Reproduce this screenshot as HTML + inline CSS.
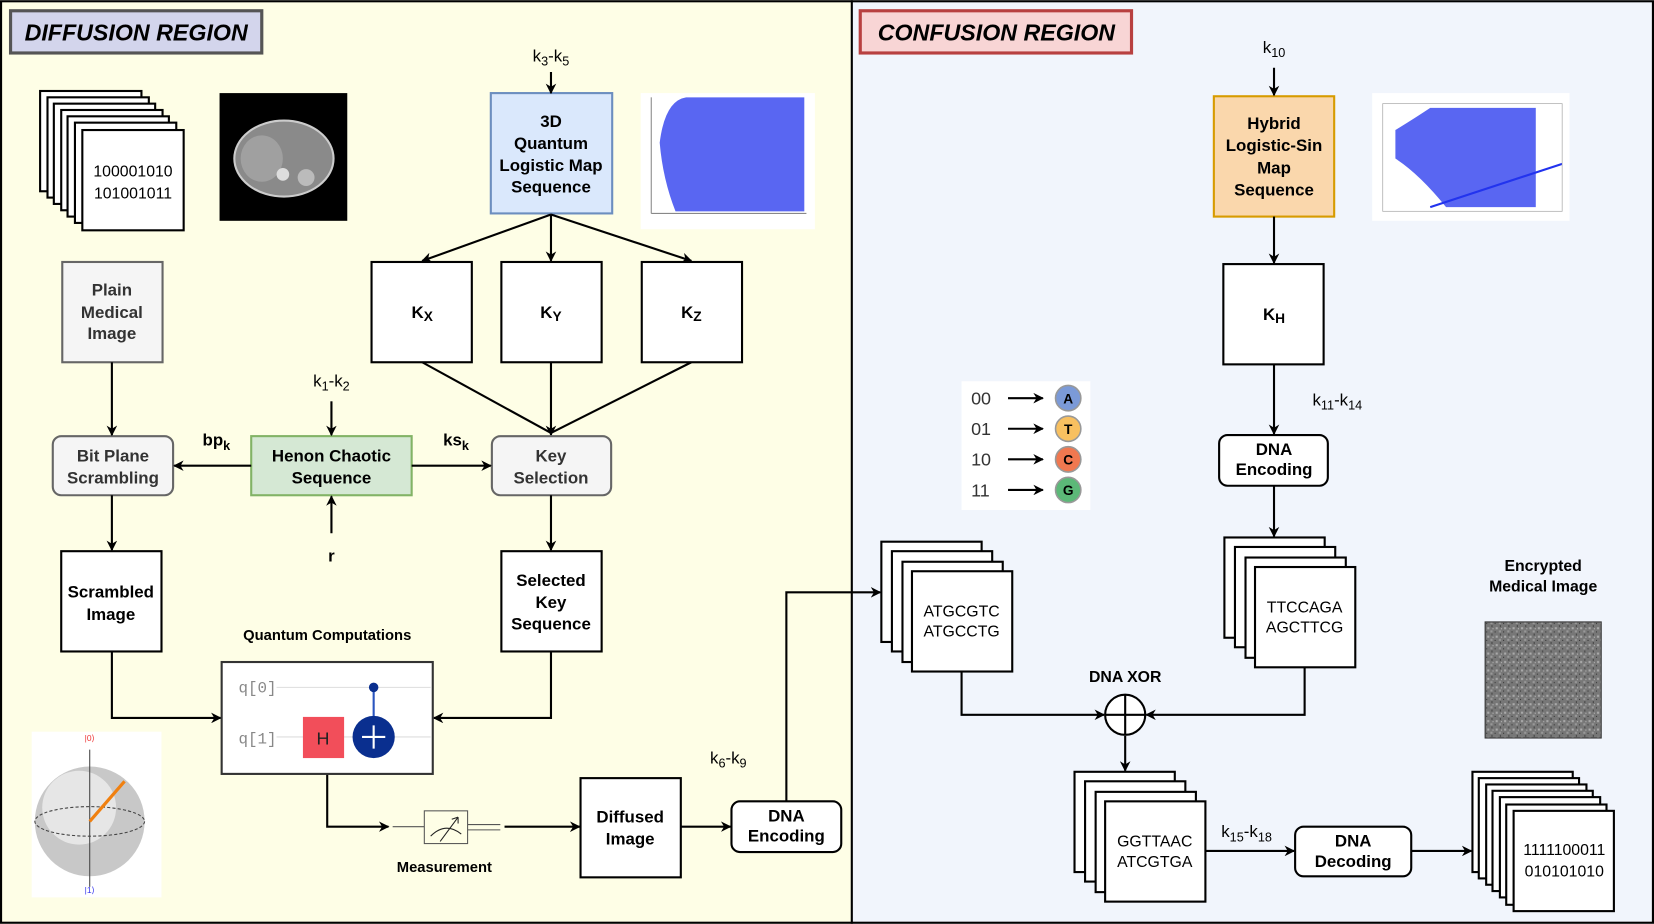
<!DOCTYPE html>
<html><head><meta charset="utf-8"><style>
html,body{margin:0;padding:0;background:#fff}
svg{display:block}
text{font-family:"Liberation Sans",Arial,sans-serif}
.b{font-weight:bold;font-size:16px}
.n{font-size:15px}
</style></head><body>
<svg width="1654" height="924" viewBox="0 0 1567 875" xmlns="http://www.w3.org/2000/svg">
<defs>
<marker id="a" markerWidth="10" markerHeight="10" refX="9" refY="5" orient="auto" markerUnits="userSpaceOnUse"><path d="M0,0 L10,5 L0,10 L3,5 z" fill="#000"/></marker>
<pattern id="noise" width="8" height="8" patternUnits="userSpaceOnUse"><rect width="8" height="8" fill="#777"/><rect x="1" y="2" width="2" height="2" fill="#aaa"/><rect x="5" y="0" width="1" height="2" fill="#444"/><rect x="4" y="5" width="2" height="2" fill="#999"/><rect x="0" y="6" width="1" height="1" fill="#333"/><rect x="6" y="3" width="1" height="1" fill="#bbb"/></pattern>
</defs>
<rect x="0" y="0" width="807" height="875" fill="#fefee6"/>
<rect x="807" y="0" width="760" height="875" fill="#f1f5fc"/>
<rect x="1" y="1" width="1565" height="873" fill="none" stroke="#000" stroke-width="2"/>
<line x1="807" y1="0" x2="807" y2="875" stroke="#000" stroke-width="2"/>

<rect x="10" y="10" width="238" height="40" fill="#d3d5ec" stroke="#555" stroke-width="3"/>
<text x="129" y="38" text-anchor="middle" font-weight="bold" font-style="italic" font-size="22">DIFFUSION REGION</text>
<rect x="815" y="10" width="257" height="40" fill="#f8d5d5" stroke="#b84040" stroke-width="3"/>
<text x="944" y="38" text-anchor="middle" font-weight="bold" font-style="italic" font-size="22">CONFUSION REGION</text>

<g fill="#fff" stroke="#000" stroke-width="2">
<rect x="38" y="86" width="96" height="95"/><rect x="45" y="92" width="96" height="95"/><rect x="51" y="98" width="96" height="95"/><rect x="58" y="104" width="96" height="95"/><rect x="64" y="110" width="96" height="95"/><rect x="71" y="116" width="96" height="95"/><rect x="78" y="123" width="96" height="95"/>
</g>
<text x="126" y="167" text-anchor="middle" class="n" font-size="16">100001010</text>
<text x="126" y="188" text-anchor="middle" class="n" font-size="16">101001011</text>

<rect x="208" y="88" width="121" height="121" fill="#000"/>
<ellipse cx="269" cy="150" rx="47" ry="36" fill="#8a8a8a" stroke="#ccc" stroke-width="2"/>
<ellipse cx="248" cy="150" rx="20" ry="22" fill="#a0a0a0"/>
<circle cx="290" cy="168" r="8" fill="#bbb"/><circle cx="268" cy="165" r="6" fill="#ddd"/>

<rect x="465" y="88" width="115" height="114" fill="#dae8fc" stroke="#6c8ebf" stroke-width="2"/>
<text x="522" y="120" text-anchor="middle" class="b">3D</text>
<text x="522" y="141" text-anchor="middle" class="b">Quantum</text>
<text x="522" y="162" text-anchor="middle" class="b">Logistic Map</text>
<text x="522" y="182" text-anchor="middle" class="b">Sequence</text>
<text x="522" y="58" text-anchor="middle" font-size="16">k<tspan font-size="12" dy="4">3</tspan><tspan dy="-4">-k</tspan><tspan font-size="12" dy="4">5</tspan></text>
<line x1="522" y1="68" x2="522" y2="88" stroke="#000" stroke-width="2" marker-end="url(#a)"/>

<rect x="607" y="88" width="165" height="129" fill="#fff"/>
<path d="M625,135 Q630,95 650,92 L762,92 L762,200 L640,200 Q628,170 625,135z" fill="#2233ee" opacity="0.75"/>
<line x1="617" y1="92" x2="617" y2="202" stroke="#888"/><line x1="617" y1="202" x2="764" y2="202" stroke="#888"/>

<g fill="#fff" stroke="#000" stroke-width="2">
<rect x="352" y="248" width="95" height="95"/><rect x="475" y="248" width="95" height="95"/><rect x="608" y="248" width="95" height="95"/>
</g>
<text x="400" y="301" text-anchor="middle" class="b" font-size="17">K<tspan font-size="13" dy="3">X</tspan></text>
<text x="522" y="301" text-anchor="middle" class="b" font-size="17">K<tspan font-size="13" dy="3">Y</tspan></text>
<text x="655" y="301" text-anchor="middle" class="b" font-size="17">K<tspan font-size="13" dy="3">Z</tspan></text>
<g stroke="#000" stroke-width="2" fill="none">
<line x1="522" y1="203" x2="400" y2="247" marker-end="url(#a)"/>
<line x1="522" y1="203" x2="522" y2="247" marker-end="url(#a)"/>
<line x1="522" y1="203" x2="655" y2="247" marker-end="url(#a)"/>
<line x1="400" y1="343" x2="522" y2="410"/>
<line x1="655" y1="343" x2="522" y2="410"/>
<line x1="522" y1="343" x2="522" y2="412" marker-end="url(#a)"/>
</g>

<rect x="59" y="248" width="95" height="95" fill="#f5f5f5" stroke="#666" stroke-width="2"/>
<text x="106" y="280" text-anchor="middle" class="b" fill="#333">Plain</text>
<text x="106" y="301" text-anchor="middle" class="b" fill="#333">Medical</text>
<text x="106" y="321" text-anchor="middle" class="b" fill="#333">Image</text>

<rect x="50" y="413" width="114" height="56" rx="8" fill="#f5f5f5" stroke="#666" stroke-width="2"/>
<text x="107" y="437" text-anchor="middle" class="b" fill="#333">Bit Plane</text>
<text x="107" y="458" text-anchor="middle" class="b" fill="#333">Scrambling</text>
<rect x="238" y="413" width="152" height="56" fill="#d5e8d4" stroke="#82b366" stroke-width="2"/>
<text x="314" y="437" text-anchor="middle" class="b">Henon Chaotic</text>
<text x="314" y="458" text-anchor="middle" class="b">Sequence</text>
<rect x="466" y="413" width="113" height="56" rx="8" fill="#f5f5f5" stroke="#666" stroke-width="2"/>
<text x="522" y="437" text-anchor="middle" class="b" fill="#333">Key</text>
<text x="522" y="458" text-anchor="middle" class="b" fill="#333">Selection</text>

<text x="314" y="366" text-anchor="middle" font-size="16">k<tspan font-size="12" dy="4">1</tspan><tspan dy="-4">-k</tspan><tspan font-size="12" dy="4">2</tspan></text>
<text x="314" y="532" text-anchor="middle" class="b">r</text>
<text x="205" y="422" text-anchor="middle" class="b">bp<tspan font-size="12" dy="4">k</tspan></text>
<text x="432" y="422" text-anchor="middle" class="b">ks<tspan font-size="12" dy="4">k</tspan></text>
<g stroke="#000" stroke-width="2" fill="none">
<line x1="314" y1="380" x2="314" y2="412" marker-end="url(#a)"/>
<line x1="314" y1="505" x2="314" y2="470" marker-end="url(#a)"/>
<line x1="238" y1="441" x2="165" y2="441" marker-end="url(#a)"/>
<line x1="390" y1="441" x2="465" y2="441" marker-end="url(#a)"/>
<line x1="106" y1="343" x2="106" y2="412" marker-end="url(#a)"/>
<line x1="106" y1="469" x2="106" y2="521" marker-end="url(#a)"/>
<line x1="522" y1="469" x2="522" y2="521" marker-end="url(#a)"/>
<polyline points="106,617 106,680 209,680" marker-end="url(#a)"/>
<polyline points="522,617 522,680 411,680" marker-end="url(#a)"/>
<polyline points="310,733 310,783 368,783" marker-end="url(#a)"/>
<line x1="478" y1="783" x2="549" y2="783" marker-end="url(#a)"/>
<line x1="645" y1="783" x2="692" y2="783" marker-end="url(#a)"/>
<polyline points="745,759 745,561 834,561" marker-end="url(#a)"/>
</g>

<rect x="58" y="522" width="95" height="95" fill="#fff" stroke="#000" stroke-width="2"/>
<text x="105" y="566" text-anchor="middle" class="b">Scrambled</text>
<text x="105" y="587" text-anchor="middle" class="b">Image</text>
<rect x="475" y="522" width="95" height="95" fill="#fff" stroke="#000" stroke-width="2"/>
<text x="522" y="555" text-anchor="middle" class="b">Selected</text>
<text x="522" y="576" text-anchor="middle" class="b">Key</text>
<text x="522" y="596" text-anchor="middle" class="b">Sequence</text>

<text x="310" y="606" text-anchor="middle" font-weight="bold" font-size="14">Quantum Computations</text>
<rect x="210" y="627" width="200" height="106" fill="#fff" stroke="#333" stroke-width="2"/>
<line x1="262" y1="651" x2="408" y2="651" stroke="#ddd"/><line x1="262" y1="698" x2="408" y2="698" stroke="#ddd"/>
<text x="244" y="656" text-anchor="middle" font-family="Liberation Mono" font-size="15" fill="#888" style="font-family:'Liberation Mono',monospace">q[0]</text>
<text x="244" y="704" text-anchor="middle" font-size="15" fill="#888" style="font-family:'Liberation Mono',monospace">q[1]</text>
<rect x="287" y="679" width="39" height="39" fill="#f24e5a"/>
<text x="306" y="705" text-anchor="middle" font-size="17" fill="#222">H</text>
<line x1="354" y1="651" x2="354" y2="690" stroke="#2a55c0" stroke-width="2"/>
<circle cx="354" cy="651" r="4.5" fill="#0a2f8f"/>
<circle cx="354" cy="698" r="20" fill="#0a2f8f"/>
<path d="M354,687v22M343,698h22" stroke="#fff" stroke-width="2"/>

<line x1="372" y1="783" x2="402" y2="783" stroke="#555"/>
<rect x="402" y="768" width="41" height="31" fill="#fefee6" stroke="#555"/>
<path d="M408,792 Q422,778 437,790 M417,797 L434,774 M434,774 l-6,2 M434,774 l0,6" stroke="#222" fill="none"/>
<line x1="443" y1="781" x2="474" y2="781" stroke="#555"/><line x1="443" y1="786" x2="474" y2="786" stroke="#555"/>
<text x="421" y="826" text-anchor="middle" font-weight="bold" font-size="14">Measurement</text>

<rect x="30" y="693" width="123" height="157" fill="#fff"/>
<circle cx="85" cy="778" r="52" fill="#c8c8c8"/>
<circle cx="75" cy="765" r="35" fill="#e6e6e6"/>
<ellipse cx="85" cy="778" rx="52" ry="14" fill="none" stroke="#444" stroke-dasharray="3,2"/>
<line x1="85" y1="710" x2="85" y2="840" stroke="#444"/>
<line x1="85" y1="778" x2="118" y2="740" stroke="#f08010" stroke-width="3"/>
<text x="85" y="702" text-anchor="middle" font-size="8" fill="#e33">|0⟩</text>
<text x="85" y="846" text-anchor="middle" font-size="8" fill="#33e">|1⟩</text>

<rect x="550" y="737" width="95" height="94" fill="#fff" stroke="#000" stroke-width="2"/>
<text x="597" y="779" text-anchor="middle" class="b">Diffused</text>
<text x="597" y="800" text-anchor="middle" class="b">Image</text>
<rect x="693" y="759" width="104" height="48" rx="8" fill="#fff" stroke="#000" stroke-width="2"/>
<text x="745" y="778" text-anchor="middle" class="b" font-size="15">DNA</text>
<text x="745" y="797" text-anchor="middle" class="b" font-size="15">Encoding</text>
<text x="690" y="723" text-anchor="middle" font-size="16">k<tspan font-size="12" dy="4">6</tspan><tspan dy="-4">-k</tspan><tspan font-size="12" dy="4">9</tspan></text>

<!-- right -->
<text x="1207" y="50" text-anchor="middle" font-size="16">k<tspan font-size="12" dy="4">10</tspan></text>
<rect x="1150" y="91" width="114" height="114" fill="#fad7ac" stroke="#d79b00" stroke-width="2"/>
<text x="1207" y="122" text-anchor="middle" class="b">Hybrid</text>
<text x="1207" y="143" text-anchor="middle" class="b">Logistic-Sin</text>
<text x="1207" y="164" text-anchor="middle" class="b">Map</text>
<text x="1207" y="185" text-anchor="middle" class="b">Sequence</text>
<rect x="1300" y="88" width="187" height="121" fill="#fff"/>
<path d="M1322,123 Q1340,112 1355,102 L1455,102 L1455,196 L1370,196 Q1345,165 1322,150 z" fill="#2233ee" opacity="0.75"/>
<line x1="1355" y1="196" x2="1480" y2="155" stroke="#2233ee" stroke-width="2"/>
<rect x="1310" y="98" width="170" height="102" fill="none" stroke="#aaa" stroke-width="0.7"/>

<rect x="1159" y="250" width="95" height="95" fill="#fff" stroke="#000" stroke-width="2"/>
<text x="1207" y="303" text-anchor="middle" class="b" font-size="17">K<tspan font-size="13" dy="3">H</tspan></text>
<text x="1267" y="384" text-anchor="middle" font-size="16">k<tspan font-size="12" dy="4">11</tspan><tspan dy="-4">-k</tspan><tspan font-size="12" dy="4">14</tspan></text>
<rect x="1155" y="412" width="103" height="48" rx="8" fill="#fff" stroke="#000" stroke-width="2"/>
<text x="1207" y="431" text-anchor="middle" class="b" font-size="15">DNA</text>
<text x="1207" y="450" text-anchor="middle" class="b" font-size="15">Encoding</text>
<g stroke="#000" stroke-width="2" fill="none">
<line x1="1207" y1="64" x2="1207" y2="90" marker-end="url(#a)"/>
<line x1="1207" y1="205" x2="1207" y2="249" marker-end="url(#a)"/>
<line x1="1207" y1="345" x2="1207" y2="411" marker-end="url(#a)"/>
<line x1="1207" y1="460" x2="1207" y2="508" marker-end="url(#a)"/>
<polyline points="911,636 911,677 1046,677" marker-end="url(#a)"/>
<polyline points="1236,632 1236,677 1086,677" marker-end="url(#a)"/>
<line x1="1066" y1="697" x2="1066" y2="730" marker-end="url(#a)"/>
<line x1="1141" y1="806" x2="1226" y2="806" marker-end="url(#a)"/>
<line x1="1337" y1="806" x2="1394" y2="806" marker-end="url(#a)"/>
</g>

<rect x="911" y="361" width="122" height="122" fill="#fff"/>
<g font-size="17" fill="#333">
<text x="920" y="383">00</text><text x="920" y="412">01</text><text x="920" y="441">10</text><text x="920" y="470">11</text>
</g>
<g stroke="#000" stroke-width="2" fill="none">
<line x1="955" y1="377" x2="988" y2="377" marker-end="url(#a)"/><line x1="955" y1="406" x2="988" y2="406" marker-end="url(#a)"/><line x1="955" y1="435" x2="988" y2="435" marker-end="url(#a)"/><line x1="955" y1="464" x2="988" y2="464" marker-end="url(#a)"/>
</g>
<g stroke="#999" stroke-width="1.5">
<circle cx="1012" cy="377" r="12" fill="#7b9ad8"/><circle cx="1012" cy="406" r="12" fill="#f8c060"/><circle cx="1012" cy="435" r="12" fill="#f07850"/><circle cx="1012" cy="464" r="12" fill="#5cb878"/>
</g>
<g font-weight="bold" font-size="13" text-anchor="middle">
<text x="1012" y="382">A</text><text x="1012" y="411">T</text><text x="1012" y="440">C</text><text x="1012" y="469">G</text>
</g>

<g fill="#fff" stroke="#000" stroke-width="2">
<rect x="835" y="513" width="95" height="95"/><rect x="845" y="522" width="95" height="95"/><rect x="855" y="532" width="95" height="95"/><rect x="864" y="541" width="95" height="95"/>
<rect x="1160" y="509" width="95" height="95"/><rect x="1170" y="518" width="95" height="95"/><rect x="1180" y="528" width="95" height="95"/><rect x="1189" y="537" width="95" height="95"/>
<rect x="1018" y="731" width="95" height="95"/><rect x="1028" y="740" width="95" height="95"/><rect x="1038" y="750" width="95" height="95"/><rect x="1047" y="759" width="95" height="95"/>
</g>
<g class="n" text-anchor="middle">
<text x="911" y="584">ATGCGTC</text><text x="911" y="603">ATGCCTG</text>
<text x="1236" y="580">TTCCAGA</text><text x="1236" y="599">AGCTTCG</text>
<text x="1094" y="802">GGTTAAC</text><text x="1094" y="821">ATCGTGA</text>
</g>
<text x="1066" y="646" text-anchor="middle" font-weight="bold" font-size="15">DNA XOR</text>
<circle cx="1066" cy="677" r="19" fill="#fff" stroke="#000" stroke-width="2"/>
<path d="M1066,658v38M1047,677h38" stroke="#000" stroke-width="2"/>

<text x="1462" y="541" text-anchor="middle" font-weight="bold" font-size="15">Encrypted</text>
<text x="1462" y="560" text-anchor="middle" font-weight="bold" font-size="15">Medical Image</text>
<rect x="1407" y="589" width="110" height="110" fill="url(#noise)" stroke="#333"/>

<text x="1181" y="793" text-anchor="middle" font-size="16">k<tspan font-size="12" dy="4">15</tspan><tspan dy="-4">-k</tspan><tspan font-size="12" dy="4">18</tspan></text>
<rect x="1227" y="783" width="110" height="47" rx="8" fill="#fff" stroke="#000" stroke-width="2"/>
<text x="1282" y="802" text-anchor="middle" class="b" font-size="15">DNA</text>
<text x="1282" y="821" text-anchor="middle" class="b" font-size="15">Decoding</text>

<g fill="#fff" stroke="#000" stroke-width="2">
<rect x="1395" y="731" width="95" height="95"/><rect x="1401" y="737" width="95" height="95"/><rect x="1408" y="743" width="95" height="95"/><rect x="1414" y="749" width="95" height="95"/><rect x="1421" y="755" width="95" height="95"/><rect x="1427" y="762" width="95" height="95"/><rect x="1434" y="768" width="95" height="95"/>
</g>
<text x="1482" y="810" text-anchor="middle" class="n">1111100011</text>
<text x="1482" y="830" text-anchor="middle" class="n">010101010</text>
</svg>
</body></html>
